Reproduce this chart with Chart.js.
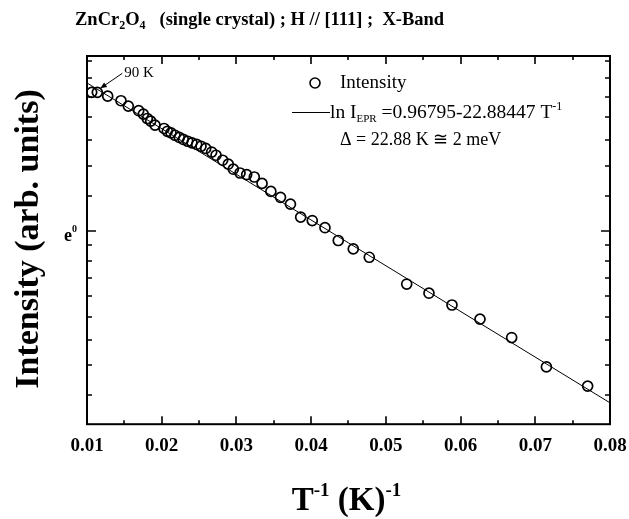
<!DOCTYPE html>
<html>
<head>
<meta charset="utf-8">
<script src="https://cdn.jsdelivr.net/npm/chart.js@4.4.0/dist/chart.umd.min.js"></script>
<style>
html, body { margin: 0; padding: 0; background: #fff; }
#wrap { width: 629px; height: 519px; }
</style>
</head>
<body>
<div id="wrap"><canvas id="eprChart" width="629" height="519"></canvas></div>
<script>
// measured points: inverse temperature (1/K) and ln of EPR intensity
const invTemp = [0.01063, 0.01138, 0.01277, 0.01455, 0.01553, 0.01692, 0.01754, 0.01807, 0.01853, 0.01910,
  0.02031, 0.02075, 0.02124, 0.02178, 0.02235, 0.02289, 0.02348, 0.02405, 0.02468, 0.02526,
  0.02589, 0.02669, 0.02727, 0.02816, 0.02891, 0.02958, 0.03048, 0.03137, 0.03239, 0.03343,
  0.03461, 0.03590, 0.03723, 0.03860, 0.04015, 0.04185, 0.04363, 0.04564, 0.04778, 0.05279,
  0.05577, 0.05885, 0.06260, 0.06684, 0.07149, 0.07701];
const lnIntensity = [0.692, 0.692, 0.673, 0.650, 0.623, 0.600, 0.583, 0.561, 0.548, 0.528,
  0.511, 0.497, 0.489, 0.477, 0.466, 0.456, 0.447, 0.439, 0.431, 0.422,
  0.411, 0.393, 0.377, 0.352, 0.332, 0.307, 0.288, 0.280, 0.268, 0.236,
  0.196, 0.166, 0.132, 0.067, 0.050, 0.014, -0.050, -0.092, -0.134, -0.268,
  -0.314, -0.373, -0.444, -0.536, -0.683, -0.779];

// linear fit end points (ln I = 0.96795 - 22.88447 / T)
const fitX = [0.01, 0.08];
const fitLn = [0.739, -0.863];

const xLabelTicks = [0.01, 0.02, 0.03, 0.04, 0.05, 0.06, 0.07, 0.08];
const xTickMarks = [0.01, 0.015, 0.02, 0.025, 0.03, 0.035, 0.04, 0.045, 0.05, 0.055, 0.06, 0.065, 0.07, 0.075, 0.08];
// intensity values where the ln axis has tick marks
const yTickValues = [0.368, 0.438, 0.509, 0.579, 0.649, 0.719, 0.789, 0.860, 0.930, 1,
  1.191, 1.382, 1.573, 1.764, 1.955, 2.146, 2.337, 2.527];

const SERIF = '"Liberation Serif", "Times New Roman", serif';

const points = invTemp.map((x, i) => ({ x: x, y: lnIntensity[i] }));
const fitLine = fitX.map((x, i) => ({ x: x, y: fitLn[i] }));

// draws a row of text pieces (for sub/superscripts)
function drawParts(ctx, x, y, parts, align) {
  let total = 0;
  parts.forEach(p => { ctx.font = p.font; total += ctx.measureText(p.t).width; });
  let cx = align === 'center' ? x - total / 2 : x;
  ctx.textBaseline = 'alphabetic';
  ctx.textAlign = 'left';
  parts.forEach(p => {
    ctx.font = p.font;
    ctx.fillText(p.t, cx, y + (p.dy || 0));
    cx += ctx.measureText(p.t).width;
  });
}

const decorPlugin = {
  id: 'decor',
  afterDraw(chart) {
    const ctx = chart.ctx;
    const a = chart.chartArea;
    const xs = chart.scales.x;
    const ys = chart.scales.y;
    ctx.save();
    ctx.strokeStyle = '#000';
    ctx.fillStyle = '#000';

    // frame
    ctx.lineWidth = 2;
    ctx.strokeRect(a.left, a.top, a.right - a.left, a.bottom - a.top);

    // inward tick marks
    ctx.lineWidth = 1.6;
    ctx.beginPath();
    xTickMarks.forEach(v => {
      const px = Math.round(xs.getPixelForValue(v));
      const len = xLabelTicks.some(t => Math.abs(t - v) < 1e-9) ? 8 : 4;
      ctx.moveTo(px, a.bottom); ctx.lineTo(px, a.bottom - len);
      ctx.moveTo(px, a.top); ctx.lineTo(px, a.top + len);
    });
    yTickValues.forEach(v => {
      const lv = Math.log(v);
      if (lv < ys.min || lv > ys.max) return;
      const py = Math.round(ys.getPixelForValue(lv));
      const len = v === 1 ? 9 : 5;
      ctx.moveTo(a.left, py); ctx.lineTo(a.left + len, py);
      ctx.moveTo(a.right, py); ctx.lineTo(a.right - len, py);
    });
    ctx.stroke();

    // y label e^0
    const y0 = ys.getPixelForValue(0);
    drawParts(ctx, a.left - 23, y0 + 10, [
      { t: 'e', font: 'bold 18px ' + SERIF },
      { t: '0', font: 'bold 10px ' + SERIF, dy: -9 }
    ]);

    // title
    const tb = 'bold 18.5px ' + SERIF, ts = 'bold 12px ' + SERIF;
    drawParts(ctx, 75, 25, [
      { t: 'ZnCr', font: tb }, { t: '2', font: ts, dy: 4 },
      { t: 'O', font: tb }, { t: '4', font: ts, dy: 4 },
      { t: '   (single crystal) ; H // [111] ;  X-Band', font: tb }
    ]);

    // axis titles
    const xb = 'bold 33px ' + SERIF, xsup = 'bold 19px ' + SERIF;
    drawParts(ctx, (a.left + a.right) / 2 - 2, 510, [
      { t: 'T', font: xb }, { t: '-1', font: xsup, dy: -14 },
      { t: ' (K)', font: xb }, { t: '-1', font: xsup, dy: -14 }
    ], 'center');

    ctx.save();
    ctx.translate(29, 239);
    ctx.rotate(-Math.PI / 2);
    ctx.font = 'bold 34px ' + SERIF;
    ctx.textAlign = 'center';
    ctx.textBaseline = 'middle';
    ctx.fillText('Intensity (arb. units)', 0, 0);
    ctx.restore();

    // legend
    const lx = a.left + 228, ly = a.top + 27;
    ctx.lineWidth = 1.6;
    ctx.beginPath();
    ctx.arc(lx, ly, 5, 0, Math.PI * 2);
    ctx.stroke();
    drawParts(ctx, lx + 25, ly + 5, [{ t: 'Intensity', font: '19px ' + SERIF }]);
    ctx.lineWidth = 1;
    ctx.beginPath();
    ctx.moveTo(lx - 23, ly + 29.5); ctx.lineTo(lx + 15, ly + 29.5);
    ctx.stroke();
    const ef = '19.5px ' + SERIF;
    drawParts(ctx, lx + 15, ly + 35, [
      { t: 'ln I', font: ef }, { t: 'EPR', font: '11px ' + SERIF, dy: 4 },
      { t: ' =0.96795-22.88447 T', font: ef }, { t: '-1', font: '12px ' + SERIF, dy: -8 }
    ]);
    drawParts(ctx, lx + 25, ly + 62, [{ t: '\u0394 = 22.88 K \u2245 2 meV', font: '18px ' + SERIF }]);

    // 90 K arrow, pointing at the second point
    const tipX = xs.getPixelForValue(invTemp[1]) + 3;
    const tipY = ys.getPixelForValue(lnIntensity[1]) - 4;
    const sx = tipX + 22, sy = tipY - 15;
    ctx.lineWidth = 1;
    ctx.beginPath();
    ctx.moveTo(sx, sy); ctx.lineTo(tipX, tipY);
    ctx.stroke();
    const ang = Math.atan2(tipY - sy, tipX - sx);
    ctx.beginPath();
    ctx.moveTo(tipX, tipY);
    ctx.lineTo(tipX - 7 * Math.cos(ang - 0.4), tipY - 7 * Math.sin(ang - 0.4));
    ctx.lineTo(tipX - 7 * Math.cos(ang + 0.4), tipY - 7 * Math.sin(ang + 0.4));
    ctx.closePath();
    ctx.fill();
    drawParts(ctx, sx + 2, sy + 4, [{ t: '90 K', font: '15px ' + SERIF }]);

    ctx.restore();
  }
};

const ctx = document.getElementById('eprChart').getContext('2d');
const eprChart = new Chart(ctx, {
  type: 'scatter',
  data: {
    datasets: [{
      label: 'Intensity',
      data: points,
      pointStyle: 'circle',
      pointRadius: 5,
      pointBorderWidth: 1.7,
      pointBorderColor: '#000',
      pointBackgroundColor: 'rgba(0,0,0,0)',
      showLine: false
    }, {
      label: 'fit',
      data: fitLine,
      showLine: true,
      borderColor: '#000',
      borderWidth: 1,
      pointRadius: 0
    }]
  },
  options: {
    responsive: false,
    animation: false,
    devicePixelRatio: 1,
    layout: { padding: { left: 87, right: 19, top: 56, bottom: 52 } },
    plugins: {
      legend: { display: false },
      tooltip: { enabled: false }
    },
    scales: {
      x: {
        type: 'linear',
        min: 0.01,
        max: 0.08,
        afterBuildTicks: (scale) => { scale.ticks = xLabelTicks.map(v => ({ value: v })); },
        // labels may overhang the plot edges like in the original
        afterFit: (scale) => { scale.paddingLeft = 0; scale.paddingRight = 0; },
        grid: { display: false, drawTicks: false },
        border: { display: false },
        ticks: {
          color: '#000',
          padding: 10,
          autoSkip: false,
          maxRotation: 0,
          font: { family: SERIF, size: 19, weight: 'bold' },
          callback: (v) => v.toFixed(2)
        }
      },
      y: {
        type: 'linear',
        display: false,
        min: -0.97,
        max: 0.874
      }
    }
  },
  plugins: [decorPlugin]
});
</script>
</body>
</html>
